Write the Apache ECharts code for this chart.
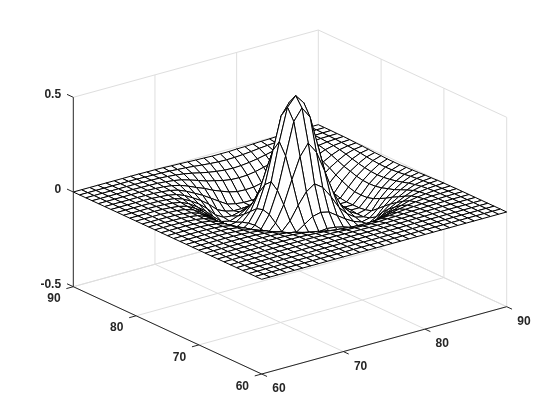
<!DOCTYPE html>
<html><head><meta charset="utf-8">
<style>html,body{margin:0;padding:0;background:#fff}#c{width:560px;height:420px}</style>
<script src="https://cdn.jsdelivr.net/npm/echarts@6/dist/echarts.min.js"></script>
</head><body><div id="c"></div>
<script>
const xTicks=[60,70,80,90];
const yTicks=[60,70,80,90];
const zTicks=[-0.5,0,0.5];
// surface heights in thousandths; row = y 60..90, column = x 60..90
const zMilli=[
[0,0,0,0,0,0,0,0,0,0,0,0,0,0,0,0,0,0,0,0,0,0,0,0,0,0,0,0,0,0,0],
[0,0,0,0,0,0,0,0,0,0,0,0,0,0,0,0,0,0,0,0,0,0,0,0,0,0,0,0,0,0,0],
[0,0,0,0,0,0,0,0,0,0,0,0,0,0,0,0,0,0,0,0,0,0,0,0,0,0,0,0,0,0,0],
[0,0,0,0,0,0,0,0,0,0,0,0,0,0,0,0,0,-1,-1,-1,0,0,0,0,0,0,0,0,0,0,0],
[0,0,0,0,0,0,0,0,0,0,0,0,0,-1,-1,-1,-2,-2,-2,-2,-2,-1,-1,-1,0,0,0,0,0,0,0],
[0,0,0,0,0,0,0,0,0,0,0,-1,-1,-2,-3,-4,-4,-5,-5,-5,-4,-4,-3,-2,-1,-1,0,0,0,0,0],
[0,0,0,0,0,0,0,0,0,-1,-1,-2,-4,-5,-7,-9,-10,-12,-12,-12,-10,-9,-7,-5,-4,-2,-1,-1,0,0,0],
[0,0,0,0,0,0,0,0,-1,-2,-3,-5,-8,-11,-15,-20,-24,-27,-28,-27,-24,-20,-15,-11,-8,-5,-3,-2,-1,0,0],
[0,0,0,0,0,0,0,-1,-2,-3,-6,-10,-16,-24,-34,-43,-50,-55,-57,-55,-50,-43,-34,-24,-16,-10,-6,-3,-2,-1,0],
[0,0,0,0,0,0,-1,-2,-3,-7,-12,-20,-33,-47,-62,-72,-83,-90,-92,-90,-83,-72,-62,-47,-33,-20,-12,-7,-3,-2,-1],
[0,0,0,0,0,0,-1,-3,-6,-12,-22,-38,-57,-74,-95,-112,-128,-138,-140,-138,-128,-112,-95,-74,-57,-38,-22,-12,-6,-3,-1],
[0,0,0,0,0,-1,-2,-5,-10,-20,-38,-60,-83,-110,-138,-165,-175,-180,-180,-180,-175,-165,-138,-110,-83,-60,-38,-20,-10,-5,-2],
[0,0,0,0,0,-1,-4,-8,-16,-33,-57,-83,-115,-155,-175,-185,-185,-180,-180,-180,-185,-185,-175,-155,-115,-83,-57,-33,-16,-8,-4],
[0,0,0,0,-1,-2,-5,-11,-24,-47,-74,-110,-155,-180,-185,-175,-160,-150,-145,-150,-160,-175,-185,-180,-155,-110,-74,-47,-24,-11,-5],
[0,0,0,0,-1,-3,-7,-15,-34,-62,-95,-138,-175,-185,-170,-145,-115,-85,-75,-85,-115,-145,-170,-185,-175,-138,-95,-62,-34,-15,-7],
[0,0,0,0,-1,-4,-9,-20,-43,-72,-112,-165,-185,-175,-145,-100,-30,30,60,30,-30,-100,-145,-175,-185,-165,-112,-72,-43,-20,-9],
[0,0,0,0,-2,-4,-10,-24,-50,-83,-128,-175,-185,-160,-115,-30,90,200,260,200,90,-30,-115,-160,-185,-175,-128,-83,-50,-24,-10],
[0,0,0,-1,-2,-5,-12,-27,-55,-90,-138,-180,-180,-150,-85,30,200,370,430,370,200,30,-85,-150,-180,-180,-138,-90,-55,-27,-12],
[0,0,0,-1,-2,-5,-12,-28,-57,-92,-140,-180,-180,-145,-75,60,260,430,480,430,260,60,-75,-145,-180,-180,-140,-92,-57,-28,-12],
[0,0,0,-1,-2,-5,-12,-27,-55,-90,-138,-180,-180,-150,-85,30,200,370,430,370,200,30,-85,-150,-180,-180,-138,-90,-55,-27,-12],
[0,0,0,0,-2,-4,-10,-24,-50,-83,-128,-175,-185,-160,-115,-30,90,200,260,200,90,-30,-115,-160,-185,-175,-128,-83,-50,-24,-10],
[0,0,0,0,-1,-4,-9,-20,-43,-72,-112,-165,-185,-175,-145,-100,-30,30,60,30,-30,-100,-145,-175,-185,-165,-112,-72,-43,-20,-9],
[0,0,0,0,-1,-3,-7,-15,-34,-62,-95,-138,-175,-185,-170,-145,-115,-85,-75,-85,-115,-145,-170,-185,-175,-138,-95,-62,-34,-15,-7],
[0,0,0,0,-1,-2,-5,-11,-24,-47,-74,-110,-155,-180,-185,-175,-160,-150,-145,-150,-160,-175,-185,-180,-155,-110,-74,-47,-24,-11,-5],
[0,0,0,0,0,-1,-4,-8,-16,-33,-57,-83,-115,-155,-175,-185,-185,-180,-180,-180,-185,-185,-175,-155,-115,-83,-57,-33,-16,-8,-4],
[0,0,0,0,0,-1,-2,-5,-10,-20,-38,-60,-83,-110,-138,-165,-175,-180,-180,-180,-175,-165,-138,-110,-83,-60,-38,-20,-10,-5,-2],
[0,0,0,0,0,0,-1,-3,-6,-12,-22,-38,-57,-74,-95,-112,-128,-138,-140,-138,-128,-112,-95,-74,-57,-38,-22,-12,-6,-3,-1],
[0,0,0,0,0,0,-1,-2,-3,-7,-12,-20,-33,-47,-62,-72,-83,-90,-92,-90,-83,-72,-62,-47,-33,-20,-12,-7,-3,-2,-1],
[0,0,0,0,0,0,0,-1,-2,-3,-6,-10,-16,-24,-34,-43,-50,-55,-57,-55,-50,-43,-34,-24,-16,-10,-6,-3,-2,-1,0],
[0,0,0,0,0,0,0,0,-1,-2,-3,-5,-8,-11,-15,-20,-24,-27,-28,-27,-24,-20,-15,-11,-8,-5,-3,-2,-1,0,0],
[0,0,0,0,0,0,0,0,0,-1,-1,-2,-4,-5,-7,-9,-10,-12,-12,-12,-10,-9,-7,-5,-4,-2,-1,-1,0,0,0]
];
const F=[261.7,374],R=[506.7,306.7],L=[73.3,286.7],zPx=189.4;
const X0=60,X1=90,Y0=60,Y1=90,Z0=-0.5,Z1=0.5;
function P(x,y,z){
  const a=(x-X0)/(X1-X0),b=(y-Y0)/(Y1-Y0),c=(z-Z0)/(Z1-Z0);
  return [F[0]+a*(R[0]-F[0])+b*(L[0]-F[0]), F[1]+a*(R[1]-F[1])+b*(L[1]-F[1])-c*zPx];
}
const nY=zMilli.length,nX=zMilli[0].length;
const zAt=(i,j)=>zMilli[j][i]/1000;
const cells=[];
for(let j=nY-2;j>=0;j--)for(let i=nX-2;i>=0;i--){
  const q=[[i,j],[i+1,j],[i+1,j+1],[i,j+1]].map(([a,b])=>P(X0+a,Y0+b,zAt(a,b)));
  cells.push(q.flat());
}
const seg=(a,b)=>[...P(...a),...P(...b)];
const gridSegs=[];
[Z0,0,Z1].forEach(z=>{gridSegs.push(seg([X0,Y1,z],[X1,Y1,z]));gridSegs.push(seg([X1,Y1,z],[X1,Y0,z]));});
xTicks.forEach(x=>{ if(x>X0) gridSegs.push(seg([x,Y1,Z0],[x,Y1,Z1])); gridSegs.push(seg([x,Y0,Z0],[x,Y1,Z0]));});
yTicks.forEach(y=>{ if(y<Y1) gridSegs.push(seg([X1,y,Z0],[X1,y,Z1])); gridSegs.push(seg([X0,y,Z0],[X1,y,Z0]));});
const axisSegs=[seg([X0,Y0,Z0],[X1,Y0,Z0]),seg([X0,Y0,Z0],[X0,Y1,Z0]),seg([X0,Y1,Z0],[X0,Y1,Z1])];
xTicks.forEach(x=>axisSegs.push(seg([x,Y0,Z0],[x,Y0-0.85,Z0])));
yTicks.forEach(y=>axisSegs.push(seg([X0,y,Z0],[X0-0.85,y,Z0])));
zTicks.forEach(z=>axisSegs.push(seg([X0,Y1,z],[X0,Y1+1,z])));
const labels=[];
xTicks.forEach(x=>{const p=P(x,Y0,Z0);labels.push([p[0]+17.2,p[1]+14.8,String(x),'center']);});
yTicks.forEach(y=>{const p=P(X0,y,Z0);labels.push([p[0]-19.4,p[1]+12.3,String(y),'center']);});
zTicks.forEach(z=>{const p=P(X0,Y1,z);labels.push([p[0]-12.2,p[1]-2.4,String(z),'right']);});
function lineSeries(data,color,w,z){
  return {type:'custom',coordinateSystem:'cartesian2d',silent:true,clip:false,z,progressive:0,data,
    renderItem(params,api){
      const a=api.coord([api.value(0),api.value(1)]),b=api.coord([api.value(2),api.value(3)]);
      return {type:'line',shape:{x1:a[0],y1:a[1],x2:b[0],y2:b[1]},style:{stroke:color,lineWidth:w}};
    }};
}
const chart=echarts.init(document.getElementById('c'),null,{renderer:'canvas'});
chart.setOption({
  animation:false,backgroundColor:'#fff',
  grid:{left:0,right:0,top:0,bottom:0},
  xAxis:{type:'value',min:0,max:560,show:false},
  yAxis:{type:'value',min:0,max:420,inverse:true,show:false},
  series:[
    lineSeries(gridSegs,'#dedede',1,1),
    {type:'custom',coordinateSystem:'cartesian2d',silent:true,clip:false,z:2,progressive:0,data:cells,
     renderItem(params,api){
       const pts=[];
       for(let k=0;k<4;k++)pts.push(api.coord([api.value(2*k),api.value(2*k+1)]));
       return {type:'polygon',shape:{points:pts},style:{fill:'#fff',stroke:'#000',lineWidth:1,lineJoin:'round'}};
     }},
    lineSeries(axisSegs,'#262626',1,3),
    {type:'custom',coordinateSystem:'cartesian2d',silent:true,clip:false,z:4,progressive:0,
     data:labels.map(l=>[l[0],l[1]]),
     renderItem(params,api){
       const d=labels[params.dataIndex],p=api.coord([d[0],d[1]]);
       return {type:'text',style:{text:d[2],x:p[0],y:p[1],align:d[3],verticalAlign:'middle',fill:'#262626',font:'bold 12px "Liberation Sans"'}};
     }}
  ]
});
</script></body></html>
